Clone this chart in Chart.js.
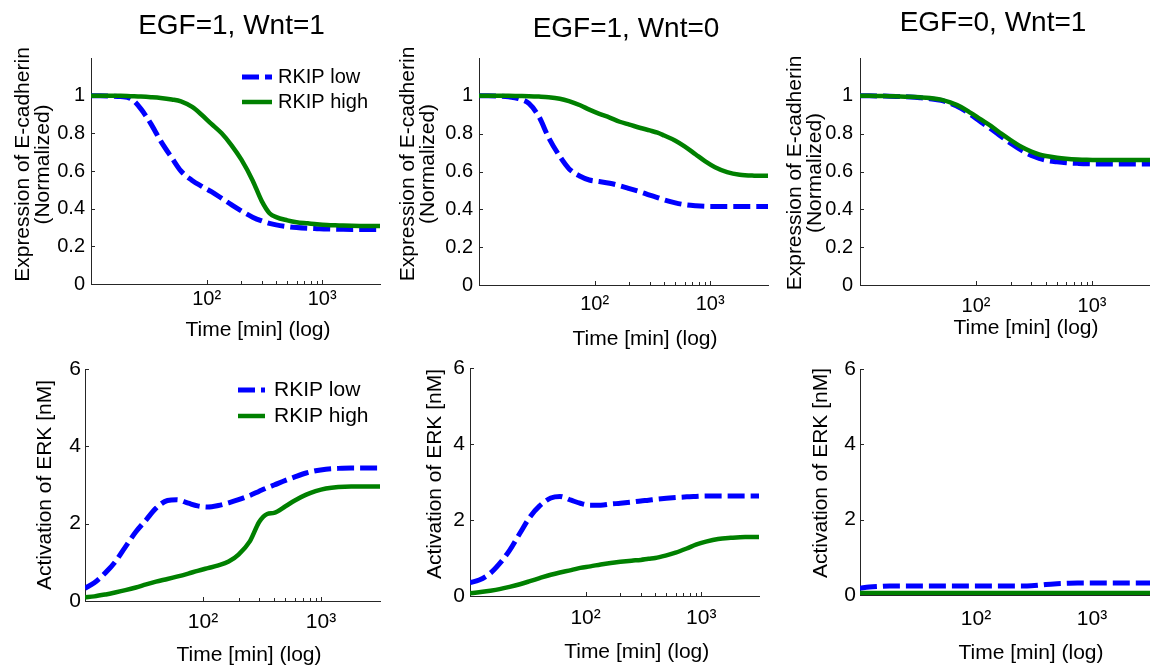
<!DOCTYPE html>
<html><head><meta charset="utf-8">
<script src="https://cdn.jsdelivr.net/npm/chart.js@4.4.1/dist/chart.umd.min.js"></script>
<style>
html,body{margin:0;padding:0;background:#fff;overflow:hidden;width:1150px;height:671px;}
canvas{position:absolute;left:0;top:0;}
</style></head><body>
<div id="wrap"></div>
<script>
// ---------- data ----------
const SERIES = ['RKIP low', 'RKIP high'];
const PANEL_TITLES = ['EGF=1, Wnt=1', 'EGF=1, Wnt=0', 'EGF=0, Wnt=1'];
const X_LABEL = 'Time [min] (log)';
const Y_LABEL_ECAD = ['Expression of E-cadherin', '(Normalized)'];
const Y_LABEL_ERK = 'Activation of ERK [nM]';
const TIME = [10, 12, 15, 18, 22, 27, 33, 40, 50, 60, 75, 90, 110, 135, 165, 200, 250, 300, 350, 400, 500, 600, 750, 900, 1100, 1400, 1800, 2400, 3162];
const X_TICKS = [100, 200, 300, 400, 500, 600, 700, 800, 900, 1000];
const X_TICK_LABELS = {100: '10\u00B2', 1000: '10\u00B3'};
const Y_TICKS_ECAD = [0, 0.2, 0.4, 0.6, 0.8, 1];
const Y_TICKS_ERK = [0, 2, 4, 6];

// E-cadherin (top row)
const ECAD_1_LOW  = [1.0, 1.0, 0.998, 0.995, 0.985, 0.93, 0.85, 0.76, 0.67, 0.60, 0.55, 0.52, 0.49, 0.455, 0.42, 0.388, 0.355, 0.335, 0.322, 0.314, 0.305, 0.30, 0.296, 0.294, 0.292, 0.291, 0.29, 0.29, 0.29];
const ECAD_1_HIGH = [1.0, 1.0, 1.0, 0.999, 0.997, 0.995, 0.992, 0.988, 0.98, 0.97, 0.94, 0.90, 0.85, 0.80, 0.735, 0.66, 0.55, 0.44, 0.376, 0.355, 0.338, 0.328, 0.322, 0.317, 0.313, 0.311, 0.309, 0.308, 0.308];
const ECAD_2_LOW  = [1.0, 1.0, 0.999, 0.995, 0.985, 0.96, 0.89, 0.78, 0.68, 0.615, 0.575, 0.555, 0.547, 0.538, 0.525, 0.51, 0.492, 0.475, 0.462, 0.45, 0.434, 0.425, 0.419, 0.416, 0.415, 0.415, 0.415, 0.415, 0.415];
const ECAD_2_HIGH = [1.0, 1.0, 1.0, 1.0, 0.999, 0.998, 0.996, 0.993, 0.985, 0.972, 0.95, 0.927, 0.905, 0.885, 0.863, 0.848, 0.83, 0.817, 0.805, 0.79, 0.763, 0.733, 0.69, 0.655, 0.623, 0.597, 0.583, 0.578, 0.577];
const ECAD_3_LOW  = [1.0, 1.0, 0.999, 0.998, 0.996, 0.994, 0.99, 0.985, 0.976, 0.96, 0.933, 0.90, 0.862, 0.825, 0.785, 0.748, 0.71, 0.685, 0.67, 0.66, 0.651, 0.646, 0.643, 0.641, 0.64, 0.64, 0.64, 0.64, 0.64];
const ECAD_3_HIGH = [1.0, 1.0, 0.999, 0.998, 0.997, 0.995, 0.992, 0.988, 0.98, 0.965, 0.94, 0.91, 0.875, 0.84, 0.80, 0.765, 0.728, 0.705, 0.69, 0.682, 0.673, 0.668, 0.664, 0.662, 0.661, 0.661, 0.661, 0.661, 0.661];
// ERK activation (bottom row)
const ERK_1_LOW  = [0.33, 0.47, 0.74, 1.01, 1.4, 1.79, 2.1, 2.4, 2.6, 2.62, 2.53, 2.46, 2.43, 2.47, 2.54, 2.62, 2.73, 2.84, 2.93, 3.0, 3.12, 3.21, 3.31, 3.37, 3.41, 3.43, 3.44, 3.44, 3.44];
const ERK_1_HIGH = [0.1, 0.12, 0.17, 0.22, 0.28, 0.35, 0.43, 0.5, 0.57, 0.63, 0.71, 0.78, 0.85, 0.92, 1.02, 1.2, 1.55, 2.05, 2.25, 2.28, 2.45, 2.6, 2.75, 2.84, 2.91, 2.95, 2.96, 2.96, 2.96];
const ERK_2_LOW  = [0.35, 0.42, 0.6, 0.85, 1.2, 1.65, 2.08, 2.37, 2.58, 2.62, 2.52, 2.44, 2.39, 2.39, 2.42, 2.44, 2.47, 2.5, 2.52, 2.54, 2.57, 2.59, 2.61, 2.62, 2.63, 2.63, 2.63, 2.63, 2.63];
const ERK_2_HIGH = [0.07, 0.1, 0.14, 0.18, 0.24, 0.31, 0.39, 0.47, 0.56, 0.62, 0.68, 0.74, 0.78, 0.83, 0.87, 0.9, 0.93, 0.95, 0.98, 1.0, 1.07, 1.14, 1.25, 1.35, 1.43, 1.5, 1.53, 1.55, 1.55];
const ERK_3_LOW  = [0.18, 0.21, 0.23, 0.24, 0.24, 0.24, 0.24, 0.24, 0.24, 0.24, 0.24, 0.24, 0.24, 0.24, 0.24, 0.24, 0.24, 0.245, 0.26, 0.28, 0.30, 0.31, 0.32, 0.32, 0.32, 0.32, 0.32, 0.32, 0.32];
const ERK_3_HIGH = [0.05, 0.05, 0.05, 0.05, 0.05, 0.05, 0.05, 0.05, 0.05, 0.05, 0.05, 0.05, 0.05, 0.05, 0.05, 0.05, 0.05, 0.05, 0.05, 0.05, 0.05, 0.05, 0.05, 0.05, 0.05, 0.05, 0.05, 0.05, 0.05];

// ---------- styling ----------
const FONT = "'Liberation Sans', Arial, Helvetica, sans-serif";
const AXIS_COLOR = '#262626';
const BLUE = '#0000ff';
const GREEN = '#008000';
const W = 1150, H = 671;

const textPlugin = {
  id: 'panelText',
  afterDraw(chart, args, opts) {
    const ctx = chart.ctx;
    ctx.save();
    ctx.fillStyle = '#000';
    ctx.textAlign = 'center';
    ctx.textBaseline = 'middle';
    (opts.items || []).forEach(it => {
      ctx.font = it.size + 'px ' + FONT;
      ctx.save();
      ctx.translate(it.x, it.y);
      if (it.rot) ctx.rotate(-Math.PI / 2);
      ctx.fillText(it.text, 0, 0);
      ctx.restore();
    });
    ctx.restore();
  }
};

const legendPlugin = {
  id: 'insetLegend',
  afterDraw(chart, args, o) {
    if (!o || !o.show) return;
    const ctx = chart.ctx, ca = chart.chartArea;
    chart.data.datasets.forEach((ds, i) => {
      const y = ca.top + o.dy + i * o.gap;
      const x0 = ca.left + o.dx;
      ctx.save();
      ctx.strokeStyle = ds.borderColor;
      ctx.lineWidth = ds.borderWidth;
      ctx.lineCap = 'butt';
      ctx.setLineDash(ds.borderDash || []);
      ctx.beginPath(); ctx.moveTo(x0, y); ctx.lineTo(x0 + o.len, y); ctx.stroke();
      ctx.setLineDash([]);
      ctx.fillStyle = '#000';
      ctx.font = o.size + 'px ' + FONT;
      ctx.textAlign = 'left'; ctx.textBaseline = 'middle';
      ctx.fillText(ds.label, x0 + o.len + o.textGap, y);
      ctx.restore();
    });
  }
};

const tickPlugin = {
  id: 'inTicks',
  beforeDatasetsDraw(chart) {
    const ctx = chart.ctx, ca = chart.chartArea, xs = chart.scales.x, ys = chart.scales.y;
    ctx.save();
    ctx.strokeStyle = AXIS_COLOR; ctx.lineWidth = 1;
    ctx.beginPath();
    xs.ticks.forEach(t => {
      const px = Math.round(xs.getPixelForValue(t.value)) + 0.5;
      const len = X_TICK_LABELS[t.value] ? 4 : 3;
      ctx.moveTo(px, ca.bottom); ctx.lineTo(px, ca.bottom - len);
    });
    ys.ticks.forEach(t => {
      const py = Math.round(ys.getPixelForValue(t.value)) + 0.5;
      ctx.moveTo(ca.left, py); ctx.lineTo(ca.left + 4, py);
    });
    ctx.stroke();
    ctx.restore();
  }
};

function pts(vals) { return TIME.map((t, i) => ({x: t, y: vals[i]})); }

function makePanel(p) {
  const c = document.createElement('canvas');
  c.width = W; c.height = H;
  document.getElementById('wrap').appendChild(c);
  const yTicks = p.ecad ? Y_TICKS_ECAD : Y_TICKS_ERK;
  new Chart(c.getContext('2d'), {
    type: 'line',
    data: {
      datasets: [
        {label: SERIES[0], data: pts(p.low), borderColor: BLUE, borderWidth: 5, borderDash: [17, 6],
         borderCapStyle: 'butt', pointRadius: 0, cubicInterpolationMode: 'monotone', fill: false, order: 1},
        {label: SERIES[1], data: pts(p.high), borderColor: GREEN, borderWidth: 4.5,
         pointRadius: 0, cubicInterpolationMode: 'monotone', fill: false, order: 0}
      ]
    },
    options: {
      responsive: false, animation: false, devicePixelRatio: 1,
      events: [],
      layout: {padding: {left: p.L - 40, top: p.T, right: W - p.R, bottom: H - p.B - 40}},
      scales: {
        x: {
          type: 'logarithmic', min: 10, max: 3162,
          afterBuildTicks: s => { s.ticks = X_TICKS.map(v => ({value: v})); },
          afterFit: s => { s.height = 40; },
          grid: {display: false, drawTicks: false},
          border: {display: true, color: AXIS_COLOR, width: 1},
          ticks: {autoSkip: false, maxRotation: 0, padding: p.xPad, color: '#000',
                  font: {size: p.tickSize, family: FONT, lineHeight: 1},
                  callback: v => X_TICK_LABELS[v] || ''}
        },
        y: {
          type: 'linear', min: 0, max: p.ecad ? 1.2 : 6,
          afterBuildTicks: s => { s.ticks = yTicks.map(v => ({value: v})); },
          afterFit: s => { s.width = 40; },
          grid: {display: false, drawTicks: false},
          border: {display: true, color: AXIS_COLOR, width: 1},
          ticks: {autoSkip: false, padding: p.yPad, color: '#000',
                  font: {size: p.tickSize, family: FONT, lineHeight: 1},
                  callback: v => String(+Number(v).toFixed(2))}
        }
      },
      plugins: {
        legend: {display: false},
        title: {display: false},
        tooltip: {enabled: false},
        panelText: {items: p.texts},
        insetLegend: p.legend || {show: false}
      }
    },
    plugins: [textPlugin, legendPlugin, tickPlugin]
  });
}

const panels = [
  {ecad: true, low: ECAD_1_LOW, high: ECAD_1_HIGH, L: 91, T: 58, R: 380, B: 284, xPad: 5, yPad: 6, tickSize: 20,
   legend: {show: true, dx: 151, dy: 19, gap: 25, len: 30, textGap: 6, size: 20},
   texts: [
     {text: PANEL_TITLES[0], x: 231.5, y: 26.5, size: 28},
     {text: X_LABEL, x: 258, y: 330, size: 21},
     {text: Y_LABEL_ECAD[0], x: 23, y: 164.5, size: 21, rot: true},
     {text: Y_LABEL_ECAD[1], x: 43, y: 164.5, size: 21, rot: true}
   ]},
  {ecad: true, low: ECAD_2_LOW, high: ECAD_2_HIGH, L: 479, T: 58, R: 768, B: 285, xPad: 9, yPad: 6, tickSize: 20,
   texts: [
     {text: PANEL_TITLES[1], x: 626, y: 29.7, size: 28},
     {text: X_LABEL, x: 645, y: 339, size: 21},
     {text: Y_LABEL_ECAD[0], x: 408, y: 164, size: 21, rot: true},
     {text: Y_LABEL_ECAD[1], x: 428, y: 164, size: 21, rot: true}
   ]},
  {ecad: true, low: ECAD_3_LOW, high: ECAD_3_HIGH, L: 860, T: 58, R: 1150, B: 285, xPad: 11, yPad: 7, tickSize: 20,
   texts: [
     {text: PANEL_TITLES[2], x: 993, y: 22.8, size: 28},
     {text: X_LABEL, x: 1026, y: 328, size: 21},
     {text: Y_LABEL_ECAD[0], x: 795, y: 173, size: 21, rot: true},
     {text: Y_LABEL_ECAD[1], x: 815, y: 173, size: 21, rot: true}
   ]},
  {ecad: false, low: ERK_1_LOW, high: ERK_1_HIGH, L: 85, T: 369, R: 380, B: 601, xPad: 10.5, yPad: 4, tickSize: 21,
   legend: {show: true, dx: 153, dy: 21, gap: 26, len: 27, textGap: 9, size: 21},
   texts: [
     {text: X_LABEL, x: 249, y: 655.5, size: 21},
     {text: Y_LABEL_ERK, x: 45, y: 485, size: 21, rot: true}
   ]},
  {ecad: false, low: ERK_2_LOW, high: ERK_2_HIGH, L: 470, T: 368, R: 759, B: 596, xPad: 11.5, yPad: 5, tickSize: 21,
   texts: [
     {text: X_LABEL, x: 636.7, y: 652.5, size: 21},
     {text: Y_LABEL_ERK, x: 435, y: 474, size: 21, rot: true}
   ]},
  {ecad: false, low: ERK_3_LOW, high: ERK_3_HIGH, L: 860, T: 369, R: 1150, B: 595, xPad: 13.5, yPad: 4, tickSize: 21,
   texts: [
     {text: X_LABEL, x: 1031, y: 653, size: 21},
     {text: Y_LABEL_ERK, x: 821.7, y: 473, size: 21, rot: true}
   ]}
];

panels.forEach(makePanel);
</script>
</body></html>
